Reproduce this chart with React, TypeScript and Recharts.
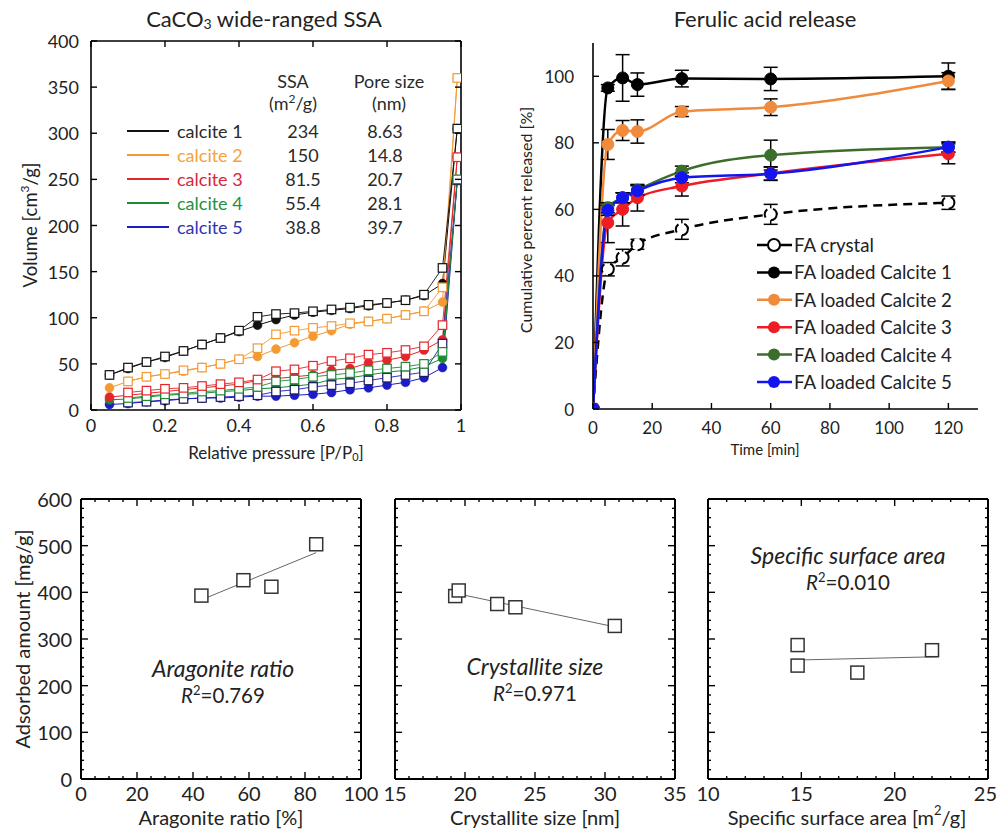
import React from 'react';
import { LineChart, Line, XAxis, YAxis, ErrorBar, Legend, ScatterChart, Scatter } from 'recharts';

const FONT = 'Lato, "Open Sans", "DejaVu Sans", sans-serif';

// ---------- Panel A: nitrogen isotherms ----------
const pressure = [0.05, 0.1, 0.15, 0.2, 0.25, 0.3, 0.35, 0.4, 0.45, 0.5, 0.55, 0.6, 0.65, 0.7, 0.75, 0.8, 0.85, 0.9, 0.95, 0.99];
const adsCalcite1 = [38, 45, 52, 57, 64, 71, 78, 85, 92, 98, 103, 106, 108, 110, 113, 116, 119, 124, 137, 305];
const desCalcite1 = [38, 46, 52, 58, 64, 71, 78, 86, 101, 104, 105, 107, 109, 111, 114, 116, 119, 125, 154, 305];
const adsCalcite2 = [24, 31, 36, 39, 42, 46, 50, 55, 58, 66, 73, 80, 86, 93, 96, 99, 103, 107, 117, 360];
const desCalcite2 = [null, 31, 36, 39, 43, 46, 50, 55, 67, 82, 86, 89, 91, 94, 96, 99, 103, 107, 133, 360];
const adsCalcite3 = [14, 16, 18, 20, 22, 24, 26, 28, 32, 34, 36, 38, 43, 45, 51, 54, 58, 65, 76, 274];
const desCalcite3 = [null, 19, 21, 23, 24, 26, 28, 30, 33, 42, 44, 48, 53, 56, 60, 62, 65, 69, 92, 274];
const adsCalcite4 = [11, 12, 14, 16, 17, 18, 20, 21, 23, 24, 26, 28, 33, 35, 38, 41, 43, 47, 56, 250];
const desCalcite4 = [null, 13, 15, 17, 18, 20, 21, 23, 25, 31, 33, 36, 38, 40, 43, 45, 47, 50, 63, 250];
const adsCalcite5 = [6, 7, 9, 10, 12, 13, 13, 14, 15, 15, 16, 17, 19, 22, 24, 27, 30, 35, 46, 249];
const desCalcite5 = [null, 8, 9, 11, 12, 13, 14, 15, 16, 20, 22, 25, 27, 29, 32, 35, 38, 41, 72, 249];
const calciteNames = ['calcite 1', 'calcite 2', 'calcite 3', 'calcite 4', 'calcite 5'];
const ssaValues = ['234', '150', '81.5', '55.4', '38.8'];
const poreValues = ['8.63', '14.8', '20.7', '28.1', '39.7'];
const isoColors = ['#111111', '#F39A33', '#E3262B', '#1E8A34', '#1C1CC4'];
const isoTextColors = ['#2a2a2a', '#F2A43C', '#D8283A', '#259142', '#3034B2'];
const isoXTicks = [0, 0.2, 0.4, 0.6, 0.8, 1];
const isoYTicks = [0, 50, 100, 150, 200, 250, 300, 350, 400];

// ---------- Panel B: release ----------
const releaseTime = [0, 5, 10, 15, 30, 60, 120];
const relCrystal = [0, 42, 45.5, 49.5, 54, 58.5, 62];
const relCalcite1 = [0, 96.5, 99.5, 97.5, 99.3, 99.2, 100];
const relCalcite2 = [0, 79.5, 83.7, 83.4, 89.4, 90.7, 98.6];
const relCalcite3 = [0, 56, 60, 63.5, 67, 70.8, 76.7];
const relCalcite4 = [0, 60.5, 63.5, 65.8, 71.5, 76.3, 78.7];
const relCalcite5 = [0, 59.7, 63.5, 65.6, 69.5, 70.7, 78.7];
const errCrystal = [0, 2, 2.5, 1.5, 3, 3, 2];
const errCalcite1 = [0, 1, 7, 3.5, 2.5, 3.5, 4];
const errCalcite2 = [0, 4.5, 3, 3.5, 1.5, 2.5, 2.5];
const errCalcite3 = [0, 6, 5, 4, 3, 2, 3];
const errCalcite4 = [0, 1.5, 1.5, 1.5, 1.5, 4.5, 1.5];
const errCalcite5 = [0, 1.5, 1.5, 1.5, 1.5, 2, 1.5];
const releaseNames = ['FA crystal', 'FA loaded Calcite 1', 'FA loaded Calcite 2', 'FA loaded Calcite 3', 'FA loaded Calcite 4', 'FA loaded Calcite 5'];
const releaseColors = ['#000000', '#000000', '#F08A3C', '#EE1C24', '#3B6E2A', '#1414F0'];
const relXTicks = [0, 20, 40, 60, 80, 100, 120];
const relYTicks = [0, 20, 40, 60, 80, 100];

// ---------- Panels C–E: correlations ----------
const aragoniteRatio = [43, 58, 68, 84];
const adsorbedByAragonite = [393, 426, 412, 503];
const aragoniteTrendX = [43, 84];
const aragoniteTrendY = [384, 485];
const crystalliteSize = [19.3, 19.55, 22.3, 23.6, 30.7];
const adsorbedByCrystallite = [392, 404, 375, 368, 328];
const crystalliteTrendX = [19.3, 30.7];
const crystalliteTrendY = [398, 326];
const surfaceArea = [14.8, 14.8, 18.0, 22.0];
const adsorbedBySurface = [287, 243, 228, 276];
const surfaceTrendX = [14.8, 22.3];
const surfaceTrendY = [255, 262];
const adsorbedMajor = [0, 100, 200, 300, 400, 500, 600];
const adsorbedAll = Array.from({ length: 31 }, (_, i) => i * 20);

const isoData = pressure.map((p, i) => ({
  p,
  a1: adsCalcite1[i], d1: desCalcite1[i],
  a2: adsCalcite2[i], d2: desCalcite2[i],
  a3: adsCalcite3[i], d3: desCalcite3[i],
  a4: adsCalcite4[i], d4: desCalcite4[i],
  a5: adsCalcite5[i], d5: desCalcite5[i],
}));

const relData = releaseTime.map((t, i) => ({
  t,
  s0: relCrystal[i], e0: errCrystal[i],
  s1: relCalcite1[i], e1: errCalcite1[i],
  s2: relCalcite2[i], e2: errCalcite2[i],
  s3: relCalcite3[i], e3: errCalcite3[i],
  s4: relCalcite4[i], e4: errCalcite4[i],
  s5: relCalcite5[i], e5: errCalcite5[i],
}));

const zip = (xs: number[], ys: number[]) => xs.map((x, i) => ({ x, y: ys[i] }));

type TickOpts = {
  side: 'bottom' | 'left' | 'top' | 'right';
  majors: number[];
  labels?: boolean;
  fontSize?: number;
  gap?: number;
  len?: number;
  minorLen?: number;
  sw?: number;
  anchorLastEnd?: boolean;
};

const makeTick = (o: TickOpts) => (props: any) => {
  const { x, y, payload, index } = props;
  const v = payload.value;
  const major = o.majors.some((m) => Math.abs(m - v) < 1e-9);
  const L = major ? (o.len ?? 6) : (o.minorLen ?? 3);
  const sw = o.sw ?? 1.4;
  let line: any;
  if (o.side === 'bottom') line = <line x1={x} y1={y} x2={x} y2={y - L} stroke="#000" strokeWidth={sw} />;
  else if (o.side === 'top') line = <line x1={x} y1={y} x2={x} y2={y + L} stroke="#000" strokeWidth={sw} />;
  else if (o.side === 'left') line = <line x1={x} y1={y} x2={x + L} y2={y} stroke="#000" strokeWidth={sw} />;
  else line = <line x1={x} y1={y} x2={x - L} y2={y} stroke="#000" strokeWidth={sw} />;
  let label: any = null;
  if (o.labels && major) {
    const fs = o.fontSize ?? 16;
    const g = o.gap ?? 10;
    if (o.side === 'bottom') {
      const isLast = o.anchorLastEnd && Math.abs(v - o.majors[o.majors.length - 1]) < 1e-9;
      label = (
        <text x={isLast ? x + 9 : x} y={y + g} textAnchor={isLast ? 'end' : 'middle'} dominantBaseline="central" fontSize={fs} fontFamily={FONT} fill="#222">
          {String(v)}
        </text>
      );
    } else if (o.side === 'left')
      label = (
        <text x={x - g} y={y} textAnchor="end" dominantBaseline="central" fontSize={fs} fontFamily={FONT} fill="#222">
          {String(v)}
        </text>
      );
  }
  return (
    <g key={`t-${o.side}-${index}`}>
      {line}
      {label}
    </g>
  );
};

const squareDot = (color: string, size: number) => (props: any) => {
  const { cx, cy, value, index } = props;
  if (cx == null || cy == null || value == null || Number.isNaN(cy)) return <g key={`sq-${index}`} />;
  return (
    <rect key={`sq-${index}`} x={cx - size / 2} y={cy - size / 2} width={size} height={size} fill="#fff" stroke={color} strokeWidth={1.2} />
  );
};

const axisLine = { stroke: '#000', strokeWidth: 1.6 };

function IsothermChart() {
  return (
    <LineChart width={490} height={470} data={isoData} margin={{ top: 31, right: 19, bottom: 30, left: 41 }}>
      <XAxis dataKey="p" type="number" domain={[0, 1]} ticks={isoXTicks} interval={0} height={30} tickSize={0} tickMargin={0}
        axisLine={axisLine} tickLine={false} tick={makeTick({ side: 'bottom', majors: isoXTicks, labels: true, fontSize: 18, gap: 15, len: 6 })} allowDataOverflow />
      <XAxis xAxisId="top" orientation="top" dataKey="p" type="number" domain={[0, 1]} ticks={isoXTicks} interval={0} height={10} tickSize={0} tickMargin={0}
        axisLine={axisLine} tickLine={false} tick={makeTick({ side: 'top', majors: isoXTicks, len: 6 })} allowDataOverflow />
      <YAxis type="number" domain={[0, 400]} ticks={isoYTicks} interval={0} width={50} tickSize={0} tickMargin={0}
        axisLine={axisLine} tickLine={false} tick={makeTick({ side: 'left', majors: isoYTicks, labels: true, fontSize: 18, gap: 12, len: 6 })} allowDataOverflow />
      <YAxis yAxisId="right" orientation="right" type="number" domain={[0, 400]} ticks={isoYTicks} interval={0} width={10} tickSize={0} tickMargin={0}
        axisLine={axisLine} tickLine={false} tick={makeTick({ side: 'right', majors: isoYTicks, len: 6 })} allowDataOverflow />
      {[4, 3, 2, 1, 0].map((k) => (
        <Line key={`a${k}`} dataKey={`a${k + 1}`} stroke={isoColors[k]} strokeWidth={1} isAnimationActive={false} activeDot={false}
          dot={{ r: 4.5, fill: isoColors[k], stroke: isoColors[k], strokeWidth: 0.5 }} />
      ))}
      {[4, 3, 2, 1, 0].map((k) => (
        <Line key={`d${k}`} dataKey={`d${k + 1}`} stroke={isoColors[k]} strokeWidth={0.9} isAnimationActive={false} activeDot={false}
          dot={squareDot(k === 4 ? '#1a1a60' : k === 0 ? '#111' : isoColors[k], 8.5)} />
      ))}
      <Legend layout="vertical" align="center" verticalAlign="middle"
        wrapperStyle={{ position: 'absolute', left: 120, top: 70, width: 340, height: 170 }}
        content={() => (
          <svg width={340} height={170} style={{ fontFamily: FONT }}>
            <text x={173} y={11} textAnchor="middle" dominantBaseline="central" fontSize={18} fill="#2a2a2a">SSA</text>
            <text x={173} y={33} textAnchor="middle" dominantBaseline="central" fontSize={18} fill="#2a2a2a">
              (m<tspan dy={-5} fontSize={12}>2</tspan><tspan dy={5}>/g)</tspan>
            </text>
            <text x={269} y={11} textAnchor="middle" dominantBaseline="central" fontSize={18} fill="#2a2a2a">Pore size</text>
            <text x={269} y={33} textAnchor="middle" dominantBaseline="central" fontSize={18} fill="#2a2a2a">(nm)</text>
            {calciteNames.map((n, i) => {
              const cy = 61 + i * 24;
              return (
                <g key={n}>
                  <line x1={7} x2={49} y1={cy} y2={cy} stroke={isoColors[i]} strokeWidth={2} />
                  <text x={57} y={cy} dominantBaseline="central" fontSize={18} fill={isoTextColors[i]}>{n}</text>
                  <text x={183} y={cy} textAnchor="middle" dominantBaseline="central" fontSize={18} fill="#2a2a2a">{ssaValues[i]}</text>
                  <text x={265} y={cy} textAnchor="middle" dominantBaseline="central" fontSize={18} fill="#2a2a2a">{poreValues[i]}</text>
                </g>
              );
            })}
          </svg>
        )}
      />
      <text x={264} y={18} textAnchor="middle" dominantBaseline="central" fontSize={22} fontFamily={FONT} fill="#222">
        CaCO<tspan dy={5} fontSize={14}>3</tspan><tspan dy={-5}> wide-ranged SSA</tspan>
      </text>
      <text x={30} y={225} textAnchor="middle" dominantBaseline="central" fontSize={18.5} fontFamily={FONT} fill="#222" transform="rotate(-90, 30, 225)">
        Volume [cm<tspan dy={-6} fontSize={12}>3</tspan><tspan dy={6}>/g]</tspan>
      </text>
      <text x={276} y={452} textAnchor="middle" dominantBaseline="central" fontSize={17} fontFamily={FONT} fill="#222">
        Relative pressure [P/P<tspan dy={4} fontSize={11}>0</tspan><tspan dy={-4}>]</tspan>
      </text>
    </LineChart>
  );
}

function ReleaseChart() {
  const keys = [0, 1, 2, 3, 4, 5];
  return (
    <LineChart width={508} height={470} data={relData} margin={{ top: 43, right: 20, bottom: 31, left: 43 }}>
      <XAxis dataKey="t" type="number" domain={[0, 130]} ticks={relXTicks} interval={0} height={30} tickSize={0} tickMargin={0}
        axisLine={axisLine} tickLine={false} tick={makeTick({ side: 'bottom', majors: relXTicks, labels: true, fontSize: 17, gap: 18, len: 6 })} allowDataOverflow />
      <YAxis type="number" domain={[0, 110]} ticks={relYTicks} interval={0} width={60} tickSize={0} tickMargin={0}
        axisLine={axisLine} tickLine={false} tick={makeTick({ side: 'left', majors: relYTicks, labels: true, fontSize: 17, gap: 19, len: 6 })} allowDataOverflow />
      {keys.map((k) => (
        <Line key={`s${k}`} dataKey={`s${k}`} type="monotone" stroke={releaseColors[k]} strokeWidth={2.5}
          strokeDasharray={k === 0 ? '9 6' : undefined} isAnimationActive={false} activeDot={false}
          dot={k === 0 ? { r: 6, fill: '#fff', stroke: '#000', strokeWidth: 2 } : { r: 6, fill: releaseColors[k], stroke: releaseColors[k], strokeWidth: 1 }}>
          <ErrorBar dataKey={`e${k}`} width={7} stroke="#000" strokeWidth={1.5} direction="y" />
        </Line>
      ))}
      <Legend layout="vertical" align="center" verticalAlign="middle"
        wrapperStyle={{ position: 'absolute', left: 262, top: 230, width: 244, height: 170 }}
        content={() => (
          <svg width={244} height={170} style={{ fontFamily: FONT }}>
            {releaseNames.map((n, i) => {
              const cy = 15 + i * 27.4;
              return (
                <g key={n}>
                  <line x1={5} x2={40} y1={cy} y2={cy} stroke={releaseColors[i]} strokeWidth={2.5} />
                  {i === 0 ? (
                    <circle cx={22} cy={cy} r={6} fill="#fff" stroke="#000" strokeWidth={2} />
                  ) : (
                    <circle cx={22} cy={cy} r={6} fill={releaseColors[i]} />
                  )}
                  <text x={42} y={cy} dominantBaseline="central" fontSize={18.7} fill="#222">{n}</text>
                </g>
              );
            })}
          </svg>
        )}
      />
      <text x={275} y={18} textAnchor="middle" dominantBaseline="central" fontSize={22} fontFamily={FONT} fill="#222">Ferulic acid release</text>
      <text x={35} y={220} textAnchor="middle" dominantBaseline="central" fontSize={16} fontFamily={FONT} fill="#222" transform="rotate(-90, 35, 220)">
        Cumulative percent released [%]
      </text>
      <text x={275} y={449} textAnchor="middle" dominantBaseline="central" fontSize={15} fontFamily={FONT} fill="#222">Time [min]</text>
    </LineChart>
  );
}

type PanelProps = {
  width: number;
  margin: { top: number; right: number; bottom: number; left: number };
  yWidth: number;
  rightWidth: number;
  showYLabels: boolean;
  lastEnd?: boolean;
  xDomain: [number, number];
  xMajor: number[];
  xAll: number[];
  points: { x: number; y: number }[];
  trend: { x: number; y: number }[];
  xTitle: any;
  xTitleX: number;
  annTitle: string;
  annR2: string;
  annX: number;
  annY: number;
};

function CorrelationPanel(p: PanelProps) {
  return (
    <ScatterChart width={p.width} height={360} margin={p.margin}>
      <XAxis dataKey="x" type="number" domain={p.xDomain} ticks={p.xAll} interval={0} height={40} tickSize={0} tickMargin={0}
        axisLine={{ stroke: '#000', strokeWidth: 2 }} tickLine={false}
        tick={makeTick({ side: 'bottom', majors: p.xMajor, labels: true, fontSize: 20, gap: 14, len: 7, minorLen: 3, anchorLastEnd: p.lastEnd })} allowDataOverflow />
      <XAxis xAxisId="top" orientation="top" dataKey="x" type="number" domain={p.xDomain} ticks={p.xAll} interval={0} height={10} tickSize={0} tickMargin={0}
        axisLine={{ stroke: '#000', strokeWidth: 2 }} tickLine={false}
        tick={makeTick({ side: 'top', majors: p.xMajor, len: 7, minorLen: 3 })} allowDataOverflow />
      <YAxis dataKey="y" type="number" domain={[0, 600]} ticks={adsorbedAll} interval={0} width={p.yWidth} tickSize={0} tickMargin={0}
        axisLine={{ stroke: '#000', strokeWidth: 2 }} tickLine={false}
        tick={makeTick({ side: 'left', majors: adsorbedMajor, labels: p.showYLabels, fontSize: 20, gap: 9, len: 7, minorLen: 3 })} allowDataOverflow />
      <YAxis yAxisId="right" orientation="right" dataKey="y" type="number" domain={[0, 600]} ticks={adsorbedAll} interval={0} width={p.rightWidth} tickSize={0} tickMargin={0}
        axisLine={{ stroke: '#000', strokeWidth: 2 }} tickLine={false}
        tick={makeTick({ side: 'right', majors: adsorbedMajor, len: 7, minorLen: 3 })} allowDataOverflow />
      <Scatter data={p.trend} line={{ stroke: '#666', strokeWidth: 1 }} shape={() => <g />} isAnimationActive={false} />
      <Scatter data={p.points} isAnimationActive={false}
        shape={(s: any) => <rect x={s.cx - 6.5} y={s.cy - 6.5} width={13} height={13} fill="#fff" stroke="#333" strokeWidth={1.5} />} />
      <text x={p.xTitleX} y={347} textAnchor="middle" dominantBaseline="central" fontSize={20} fontFamily={FONT} fill="#222">{p.xTitle}</text>
      <text x={p.annX} y={p.annY - 2} textAnchor="middle" dominantBaseline="central" fontSize={23} fontFamily={FONT} fontStyle="italic" fill="#222">
        {p.annTitle}
      </text>
      <text x={p.annX} y={p.annY + 25} textAnchor="middle" dominantBaseline="central" fontSize={20.5} fontFamily={FONT} fill="#222">
        <tspan fontStyle="italic">R</tspan>
        <tspan dy={-5} fontSize={13}>2</tspan>
        <tspan dy={5}>{p.annR2}</tspan>
      </text>
    </ScatterChart>
  );
}

export default function App() {
  return (
    <div style={{ position: 'absolute', left: 0, top: 0, width: 998, height: 830, background: '#fff', fontFamily: FONT }}>
      <div style={{ position: 'absolute', left: 0, top: 0 }}>
        <IsothermChart />
      </div>
      <div style={{ position: 'absolute', left: 490, top: 0 }}>
        <ReleaseChart />
      </div>
      <div style={{ position: 'absolute', left: 0, top: 470 }}>
        <CorrelationPanel width={385} margin={{ top: 19, right: 19, bottom: 11, left: 11 }} yWidth={70} rightWidth={5} showYLabels
          xDomain={[0, 100]} xMajor={[0, 20, 40, 60, 80, 100]} xAll={Array.from({ length: 21 }, (_, i) => i * 5)}
          points={zip(aragoniteRatio, adsorbedByAragonite)} trend={zip(aragoniteTrendX, aragoniteTrendY)}
          xTitle="Aragonite ratio [%]" xTitleX={221} annTitle="Aragonite ratio" annR2="=0.769" annX={223} annY={200} />
        <svg style={{ position: 'absolute', left: 0, top: 0, pointerEvents: 'none' }} width={60} height={360}>
          <text x={22} y={169} textAnchor="middle" dominantBaseline="central" fontSize={20} fontFamily={FONT} fill="#222" transform="rotate(-90, 22, 169)">
            Adsorbed amount [mg/g]
          </text>
        </svg>
      </div>
      <div style={{ position: 'absolute', left: 370, top: 470 }}>
        <CorrelationPanel width={325} margin={{ top: 19, right: 17, bottom: 11, left: 10 }} yWidth={15} rightWidth={3} showYLabels={false}
          xDomain={[15, 35]} xMajor={[15, 20, 25, 30, 35]} xAll={Array.from({ length: 21 }, (_, i) => 15 + i)}
          points={zip(crystalliteSize, adsorbedByCrystallite)} trend={zip(crystalliteTrendX, crystalliteTrendY)}
          xTitle="Crystallite size [nm]" xTitleX={165} annTitle="Crystallite size" annR2="=0.971" annX={165} annY={198} />
      </div>
      <div style={{ position: 'absolute', left: 680, top: 470 }}>
        <CorrelationPanel width={318} margin={{ top: 19, right: 5, bottom: 11, left: 13 }} yWidth={15} rightWidth={5} showYLabels={false} lastEnd
          xDomain={[10, 25]} xMajor={[10, 15, 20, 25]} xAll={Array.from({ length: 16 }, (_, i) => 10 + i)}
          points={zip(surfaceArea, adsorbedBySurface)} trend={zip(surfaceTrendX, surfaceTrendY)}
          xTitle={<>Specific surface area [m<tspan dy={-7} fontSize={13}>2</tspan><tspan dy={7}>/g]</tspan></>} xTitleX={167}
          annTitle="Specific surface area" annR2="=0.010" annX={168} annY={87} />
      </div>
    </div>
  );
}
